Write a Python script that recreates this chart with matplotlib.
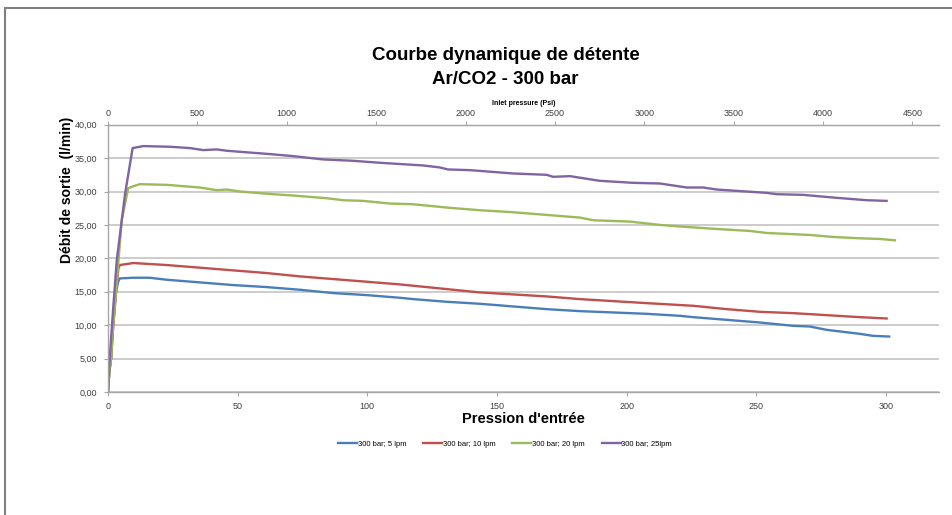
import matplotlib
matplotlib.use("Agg")
import matplotlib.pyplot as plt
from matplotlib.patches import Rectangle
from matplotlib.ticker import FuncFormatter, MultipleLocator

# ---- data (bar, l/min) ----
blue_x = [0, 0.5, 1.2, 2.0, 3.1, 4.0, 4.6, 9.8, 16, 22.6, 35.5, 48.3, 61.2, 74, 86.9, 99.8, 112.6,
          117.7, 130.6, 143.5, 156.3, 169.2, 182, 194.9, 207.7, 220.6, 225.7, 238.6, 251.4, 264.3,
          270.7, 277.2, 290, 295.1, 301.3]
blue_y = [0, 3, 5, 10, 15, 16.6, 17.0, 17.1, 17.1, 16.8, 16.4, 16.0, 15.7, 15.3, 14.8, 14.5, 14.1,
          13.9, 13.5, 13.2, 12.8, 12.4, 12.1, 11.9, 11.7, 11.4, 11.2, 10.8, 10.4, 9.9,
          9.8, 9.3, 8.7, 8.4, 8.3]

red_x = [0, 0.5, 1.2, 2.0, 3.1, 4.0, 4.6, 9.8, 22.6, 35.5, 48.3, 61.2, 74, 86.9, 99.8, 112.6,
         130.6, 143.5, 156.3, 169.2, 182, 194.9, 207.7, 225.7, 238.6, 251.4, 264.3, 277.2, 290, 300.3]
red_y = [0, 3, 5, 10, 15, 18.5, 19.0, 19.3, 19.0, 18.6, 18.2, 17.8, 17.3, 16.9, 16.5, 16.1,
         15.4, 14.9, 14.6, 14.3, 13.9, 13.6, 13.3, 12.9, 12.4, 12.0, 11.8, 11.5, 11.2, 11.0]

green_x = [0, 0.5, 1.2, 2.0, 3.1, 5.3, 7.8, 9.8, 12.3, 22.6, 35.5, 41.9, 45.8, 50.9, 63.7, 71.5,
           84.3, 90.7, 98.4, 108.8, 117.7, 130.6, 143.5, 156.3, 169.2, 182, 187.2, 201.3, 212.9,
           223.2, 234.7, 247.6, 254, 270.7, 279.7, 290, 297.7, 303.5]
green_y = [0, 3, 5, 10, 15, 25.7, 30.5, 30.8, 31.1, 31.0, 30.6, 30.2, 30.3, 30.0, 29.6, 29.4,
           29.0, 28.7, 28.6, 28.2, 28.1, 27.6, 27.2, 26.9, 26.5, 26.1, 25.7, 25.5, 25.0,
           24.7, 24.4, 24.1, 23.8, 23.5, 23.2, 23.0, 22.9, 22.7]

purple_x = [0, 0.5, 1.0, 2.0, 3.4, 6.6, 9.5, 13.6, 23.9, 31.6, 36.7, 41.9, 45.8, 62.5, 71.4, 83,
            94.5, 104.9, 121.6, 128, 131.2, 139.6, 156.3, 169.2, 171.7, 178.2, 189.7, 202.6,
            212.9, 223.2, 229.6, 234.7, 254, 257.9, 268.1, 279.7, 292.6, 300.3]
purple_y = [0, 4, 7, 12.5, 19.8, 29.7, 36.5, 36.8, 36.7, 36.5, 36.2, 36.3, 36.1, 35.6, 35.3, 34.8,
            34.6, 34.3, 33.9, 33.6, 33.3, 33.2, 32.7, 32.5, 32.2, 32.3, 31.6, 31.3,
            31.2, 30.6, 30.6, 30.3, 29.8, 29.6, 29.5, 29.1, 28.7, 28.6]

labels = ["300 bar; 5 lpm", "300 bar; 10 lpm", "300 bar; 20 lpm", "300 bar; 25lpm"]
colors = ["#4A7EBB", "#C0504D", "#9BBB59", "#8064A2"]

psi_ticks = [0, 500, 1000, 1500, 2000, 2500, 3000, 3500, 4000, 4500]
BAR2PSI = 14.5038

plt.rcParams['font.family'] = ['Liberation Sans', 'DejaVu Sans']

fig = plt.figure(figsize=(9.52, 5.15), dpi=100)
fig.patches.append(Rectangle((5/952, -0.2), 1.2, 1.2 - 8/515, transform=fig.transFigure,
                             fill=False, edgecolor="#7F7F7F", lw=1.5, zorder=0))

ax = fig.add_axes([108/952, 1 - 392/515, (939 - 108)/952, (392 - 124.7)/515])

series = [(blue_x, blue_y), (red_x, red_y), (green_x, green_y), (purple_x, purple_y)]
for (xs, ys), lab, c in zip(series, labels, colors):
    ax.plot(xs, ys, color=c, lw=1.7, label=lab, solid_joinstyle="round")

ax.set_xlim(0, 320.5)
ax.set_ylim(0, 40)
ax.yaxis.set_major_locator(MultipleLocator(5))
ax.xaxis.set_major_locator(MultipleLocator(50))
ax.yaxis.set_major_formatter(FuncFormatter(lambda v, p: f"{v:.2f}".replace(".", ",")))
ax.grid(axis="y", color="#BFBFBF", lw=1.1)
ax.set_axisbelow(True)
ax.spines["right"].set_visible(False)
for s in ["left", "bottom", "top"]:
    ax.spines[s].set_color("#A6A6A6")
    ax.spines[s].set_linewidth(1.0)
ax.tick_params(axis="both", colors="#A6A6A6", labelcolor="#404040", labelsize=6.5, length=3, width=0.8)
ax.tick_params(axis="y", pad=5)
ax.tick_params(axis="x", pad=4)

ax.set_xlabel("Pression d'entrée", fontsize=10.5, fontweight="bold", labelpad=1)
fig.text(67/952, 1 - 190/515, "Débit de sortie  (l/min)", rotation=90, ha="center", va="center",
         fontsize=10, fontweight="bold")

sec = ax.secondary_xaxis("top", functions=(lambda b: b * BAR2PSI, lambda p: p / BAR2PSI))
sec.set_xticks(psi_ticks)
sec.set_xticklabels([str(t) for t in psi_ticks])
sec.tick_params(colors="#A6A6A6", labelcolor="#404040", labelsize=6.5, length=3, width=0.8, pad=2)
sec.spines["top"].set_color("#A6A6A6")
sec.set_xlabel("Inlet pressure (Psi)", fontsize=5, fontweight="bold", labelpad=3)

fig.text(0.531, 1 - 55/515, "Courbe dynamique de détente", ha="center", va="center",
         fontsize=13.5, fontweight="bold")
fig.text(0.531, 1 - 80/515, "Ar/CO2 - 300 bar", ha="center", va="center",
         fontsize=13.5, fontweight="bold")

leg = fig.legend(loc="center", bbox_to_anchor=(505/952, 1 - 444/515), ncol=4, frameon=False,
                 fontsize=5.5, handlelength=2.5, handletextpad=0.1, columnspacing=2.2)

fig.savefig("out.png", dpi=100)
